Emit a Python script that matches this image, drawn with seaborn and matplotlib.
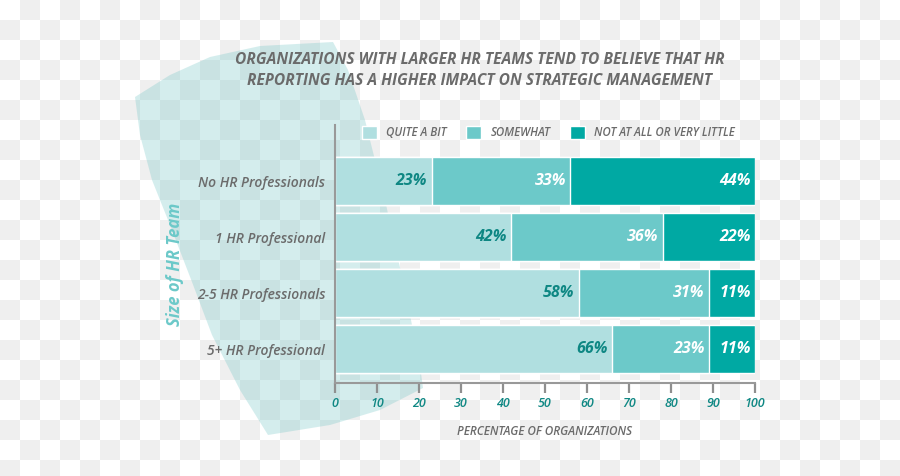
import numpy as np
import pandas as pd
import seaborn as sns
import matplotlib.pyplot as plt
from matplotlib.patches import Polygon

categories = ["No HR Professionals", "1 HR Professional", "2-5 HR Professionals", "5+ HR Professional"]
quite_a_bit = [23, 42, 58, 66]
somewhat = [33, 36, 31, 23]
not_at_all = [44, 22, 11, 11]
series_names = ["QUITE A BIT", "SOMEWHAT", "NOT AT ALL OR VERY LITTLE"]
x_ticks = [0, 10, 20, 30, 40, 50, 60, 70, 80, 90, 100]

c_light, c_mid, c_dark = "#b0dfe0", "#6cc9c9", "#00a9a3"
gray_txt = "#6b6b6b"
teal_txt = "#0e8783"

sns.set_theme(style="ticks")
plt.rcParams['font.family'] = ['Open Sans', 'DejaVu Sans']

df = pd.DataFrame({"team": categories, "q": quite_a_bit, "s": somewhat, "n": not_at_all})
df["qs"] = df["q"] + df["s"]
df["total"] = df["qs"] + df["n"]

fig = plt.figure(figsize=(9, 4.76), dpi=100)

# checkerboard background + translucent blob
bg = fig.add_axes([0, 0, 1, 1], zorder=-2)
yy, xx = np.mgrid[0:24, 0:45]
checker = ((xx + yy) % 2).astype(float)
bg.imshow(checker, cmap=plt.matplotlib.colors.ListedColormap(["#ffffff", "#efefef"]),
          extent=(0, 900, 480, 0), interpolation="nearest")
blob = [(135, 97), (170, 75), (210, 57), (260, 46), (333, 42), (348, 70), (365, 120),
        (385, 200), (405, 290), (420, 365), (423, 388), (380, 410), (330, 425),
        (268, 435), (240, 390), (212, 335), (192, 282), (170, 225), (152, 180),
        (140, 135)]
bg.add_patch(Polygon(blob, closed=True, facecolor="#73c6c6", alpha=0.3, edgecolor="none"))
bg.set_xlim(0, 900)
bg.set_ylim(476, 0)
bg.axis("off")

ax = fig.add_axes([0.3722, 0.1954, 0.4667, 0.542])
ax.set_facecolor("none")
sns.barplot(data=df, y="team", x="total", color=c_dark, width=0.86, orient="h",
            saturation=1, ax=ax, label=series_names[2])
sns.barplot(data=df, y="team", x="qs", color=c_mid, width=0.86, orient="h",
            saturation=1, ax=ax, label=series_names[1])
sns.barplot(data=df, y="team", x="q", color=c_light, width=0.86, orient="h",
            saturation=1, ax=ax, label=series_names[0])

lab_kw = dict(ha="right", va="center", fontsize=11.5, fontweight="bold", fontstyle="italic")
for i, row in df.iterrows():
    ax.text(row["q"] - 1.0, i, f"{row['q']}%", color=teal_txt, **lab_kw)
    ax.text(row["qs"] - 1.0, i, f"{row['s']}%", color="white", **lab_kw)
    ax.text(row["total"] - 1.0, i, f"{row['n']}%", color="white", **lab_kw)

ax.set_xlim(0, 100)
ax.set_ylim(3.6, -1.0)
ax.set_xticks(x_ticks)
ax.tick_params(axis="x", bottom=True, length=7, width=1.6, color="#8f8f8f",
               labelsize=9, labelcolor=teal_txt, pad=3, direction="out")
for t in ax.get_xticklabels():
    t.set_fontstyle("italic")
    t.set_fontweight("semibold")
ax.tick_params(axis="y", left=False, labelsize=10, labelcolor=gray_txt, pad=1)
for t in ax.get_yticklabels():
    t.set_fontstyle("italic")
    t.set_fontweight("semibold")
sns.despine(ax=ax, top=True, right=True)
for s in ["left", "bottom"]:
    ax.spines[s].set_color("#999999")
    ax.spines[s].set_linewidth(1.5)

ax.set_xlabel("PERCENTAGE OF ORGANIZATIONS", fontsize=8.5, color=gray_txt,
              fontstyle="italic", fontweight="semibold", labelpad=11)
ax.set_ylabel("Size of HR Team", fontsize=12, color=c_mid, fontstyle="italic",
              fontweight="bold")
ax.yaxis.set_label_coords(-0.36, 0.46)

handles, labels = ax.get_legend_handles_labels()
order = [labels.index(n) for n in series_names]
leg = ax.legend([handles[k] for k in order], series_names, loc="upper left",
                bbox_to_anchor=(0.04, 1.035), ncol=3, frameon=False, fontsize=8.3,
                handlelength=1.3, handleheight=1.3, columnspacing=1.7, handletextpad=0.8)
for t in leg.get_texts():
    t.set_color(gray_txt)
    t.set_fontstyle("italic")
    t.set_fontweight("semibold")

fig.text(0.533, 0.852, "ORGANIZATIONS WITH LARGER HR TEAMS TEND TO BELIEVE THAT HR\n"
         "REPORTING HAS A HIGHER IMPACT ON STRATEGIC MANAGEMENT",
         ha="center", va="center", fontsize=11.2, fontweight="bold", fontstyle="italic",
         color=gray_txt, linespacing=1.4)

fig.savefig("out.png", dpi=100)
